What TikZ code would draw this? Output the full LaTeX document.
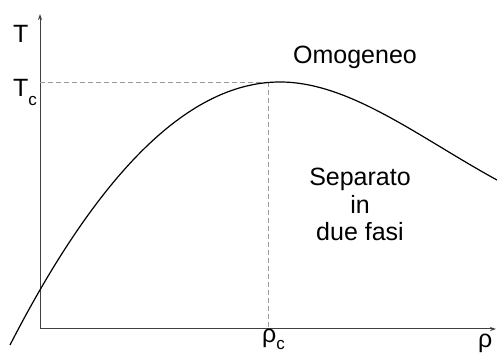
\documentclass[tikz,border=0pt]{standalone}
\usepackage{fontspec}
\setmainfont{Liberation Sans}
\usetikzlibrary{arrows.meta}

\tikzset{
    axis/.style={draw=black!75, line width=1pt, -{Stealth[length=6pt, width=4pt]}},
    guide/.style={draw=black!40, line width=0.6pt, dash pattern=on 5pt off 3pt},
    curve/.style={draw=black, line width=1.2pt},
    lbl/.style={inner sep=0pt, font=\fontsize{25}{27.5}\selectfont},
}

\begin{document}
\begin{tikzpicture}[x=1pt, y=1pt]
    \useasboundingbox (0,0) rectangle (497,355);

    % Axes
    \coordinate (O) at (40,26);
    \coordinate (Ttop) at (40,341);
    \coordinate (rhoend) at (496,26);
    \draw[axis] (O) -- (Ttop);
    \draw[axis] (O) -- (rhoend);

    % Axis labels
    \node[lbl, anchor=base west] (T) at (13,312) {T};
    \node[lbl, anchor=base west] (rho) at (478,7) {ρ};

    % Critical point and guides
    \coordinate (crit) at (268,273);
    \coordinate (Tcax) at (40,273);
    \coordinate (rhocax) at (268,26);
    \draw[guide] (Tcax) -- (crit);
    \draw[guide] (crit) -- (rhocax);

    % Critical labels
    \node[lbl, anchor=base west] (Tc) at (13,258)
        {T\raisebox{-9pt}{\fontsize{17}{17}\selectfont c}};
    \node[lbl, anchor=base west] (rhoc) at (262,12)
        {ρ\raisebox{-7pt}{\fontsize{17}{17}\selectfont c}};

    % Coexistence curve
    \draw[curve] (10,10) .. controls (100,185) and (190,273) .. (280,273)
                 .. controls (350,273) and (420,217) .. (497,175);

    % Regions
    \node[lbl, anchor=base] (omog) at (355,291) {Omogeneo};
    \node[lbl, anchor=north, align=center] (sep) at (360,187)
        {Separato\\in\\due fasi};

\end{tikzpicture}
\end{document}
